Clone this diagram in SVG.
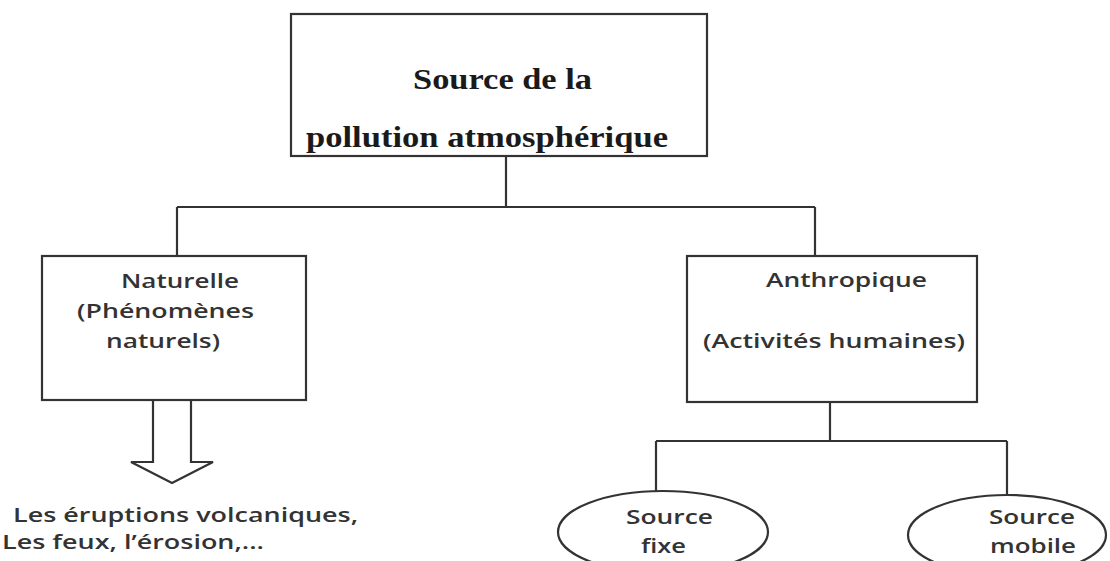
<svg xmlns="http://www.w3.org/2000/svg" width="1110" height="561" viewBox="0 0 1110 561">
<style>
.box{fill:#fff;stroke:#333;stroke-width:2.2}
.ln{fill:none;stroke:#333;stroke-width:2.2}
.t{font-family:"Times New Roman","Liberation Serif",serif;font-weight:bold;font-size:29px;fill:#1a1a1a}
.s{font-family:"Open Sans","Liberation Sans",sans-serif;font-weight:600;font-size:20px;fill:#333}
</style>
<rect width="1110" height="561" fill="#fff"/>
<g id="connectors">
<path class="ln" d="M506,156 V207 M177,207 H815 M177,207 V256 M815,207 V256"/>
<path class="ln" d="M830,402 V441 M656,441 H1007 M656,441 V491 M1007,441 V495"/>
<path class="box" d="M153,401 V462 H131 L172,483 L213,462 H191 V401"/>
</g>
<g id="root">
<rect class="box" x="291" y="14" width="416" height="142"/>
<text class="t" x="413" y="89" textLength="179" lengthAdjust="spacingAndGlyphs">Source de la</text>
<text class="t" x="306" y="147" textLength="362" lengthAdjust="spacingAndGlyphs">pollution atmosphérique</text>
</g>
<g id="naturelle">
<rect class="box" x="42" y="256" width="264" height="144"/>
<text class="s" x="121" y="288" textLength="118" lengthAdjust="spacingAndGlyphs">Naturelle</text>
<text class="s" x="77" y="318" textLength="177" lengthAdjust="spacingAndGlyphs">(Phénomènes</text>
<text class="s" x="106" y="348" textLength="114" lengthAdjust="spacingAndGlyphs">naturels)</text>
</g>
<g id="anthropique">
<rect class="box" x="687" y="256" width="290" height="146"/>
<text class="s" x="766" y="287" textLength="161" lengthAdjust="spacingAndGlyphs">Anthropique</text>
<text class="s" x="703" y="348" textLength="262" lengthAdjust="spacingAndGlyphs">(Activités humaines)</text>
</g>
<g id="exemples">
<text class="s" x="13" y="522" textLength="345" lengthAdjust="spacingAndGlyphs">Les éruptions  volcaniques,</text>
<text class="s" x="2" y="549" textLength="262" lengthAdjust="spacingAndGlyphs">Les feux, l’érosion,...</text>
</g>
<g id="fixe">
<ellipse class="box" cx="663" cy="532" rx="105" ry="41"/>
<text class="s" x="626" y="524" textLength="87" lengthAdjust="spacingAndGlyphs">Source</text>
<text class="s" x="641" y="553" textLength="45" lengthAdjust="spacingAndGlyphs">fixe</text>
</g>
<g id="mobile">
<ellipse class="box" cx="1007" cy="535" rx="99" ry="40"/>
<text class="s" x="989" y="524" textLength="86" lengthAdjust="spacingAndGlyphs">Source</text>
<text class="s" x="990" y="553" textLength="86" lengthAdjust="spacingAndGlyphs">mobile</text>
</g>
</svg>
